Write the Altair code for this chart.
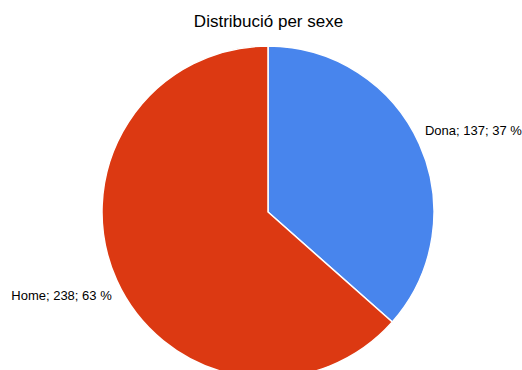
import altair as alt
import pandas as pd

categories = ["Dona", "Home"]
counts = [137, 238]
percents = [37, 63]
colors = ["#4885ed", "#dc3912"]
title_text = "Distribució per sexe"

df = pd.DataFrame({
    "sexe": categories,
    "n": counts,
    "pct": percents,
    "ord": list(range(len(categories))),
})
df["label"] = [f"{c}; {n}; {p} %" for c, n, p in zip(categories, counts, percents)]

W, H = 522, 370
CX, CY, R = 268, 212, 166
FONT = "Liberation Sans"

base = alt.Chart(df).encode(
    theta=alt.Theta("n:Q", stack=True),
    order=alt.Order("ord:Q"),
)

pie = base.mark_arc(radius=R, stroke="white", strokeWidth=1.5).encode(
    color=alt.Color("sexe:N", scale=alt.Scale(domain=categories, range=colors), legend=None),
    x=alt.value(CX), y=alt.value(CY),
)

lab_dona = base.mark_text(
    radius=176, align="left", baseline="alphabetic", fontSize=13,
    font=FONT, color="#000000", dx=-3.5, dy=-4.8,
).encode(
    text="label:N", x=alt.value(CX), y=alt.value(CY),
    opacity=alt.condition("datum.sexe == 'Dona'", alt.value(1), alt.value(0)),
)

lab_home = base.mark_text(
    radius=176, align="right", baseline="alphabetic", fontSize=13,
    font=FONT, color="#000000", dx=4.2, dy=15.4,
).encode(
    text="label:N", x=alt.value(CX), y=alt.value(CY),
    opacity=alt.condition("datum.sexe == 'Home'", alt.value(1), alt.value(0)),
)

title = alt.Chart(pd.DataFrame({"t": [title_text]})).mark_text(
    fontSize=17, font=FONT, color="#000000", align="center", baseline="alphabetic",
).encode(text="t:N", x=alt.value(268.5), y=alt.value(27.3))

chart = alt.layer(pie, lab_dona, lab_home, title).properties(
    width=W, height=H,
    autosize=alt.AutoSizeParams(type="none"),
    padding=0,
).configure_view(stroke=None)

chart.save("out.html", embed_options={"renderer": "svg", "actions": False})
